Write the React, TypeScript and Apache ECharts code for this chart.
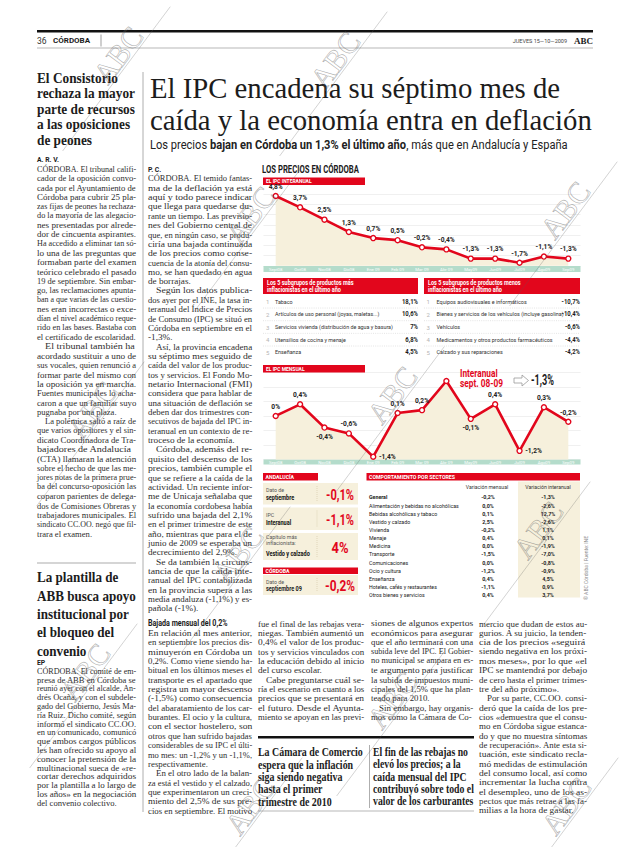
import React, { useEffect, useRef } from 'react';
import * as echarts from 'echarts';

// ---------- DATA ----------
const months = ['Sept08', 'Oct08', 'Nov08', 'Dic08', 'Ene 09', 'Feb 09', 'Mar 09', 'Abr 09', 'May09', 'Jun09', 'Jul09', 'Ago09', 'Sep09'];
const ipcInteranual = [4.8, 3.7, 2.5, 1.3, 0.7, 0.5, -0.2, -0.4, -1.3, -1.3, -1.7, -1.1, -1.3];
const ipcMensual = [0, 0.4, -0.4, -0.6, -1.4, 0.1, 0.2, 1.2, -0.1, 0.4, -1.2, 0.3, -0.2];

const masInflacionistas = ['Tabaco', 'Artículos de uso personal (joyas, maletas...)', 'Servicios vivienda (distribución de agua y basura)', 'Utensilios de cocina y menaje', 'Enseñanza'];
const masInflacionistasValores = ['18,1%', '10,6%', '7%', '6,8%', '4,5%'];
const menosInflacionistas = ['Equipos audiovisuales e informáticos', 'Bienes y servicios de los vehículos (incluye gasolina)', 'Vehículos', 'Medicamentos y otros productos farmacéuticos', 'Calzado y sus reparaciones'];
const menosInflacionistasValores = ['-10,7%', '-10,4%', '-6,6%', '-4,4%', '-4,2%'];

const andaluciaEtiquetas = [['Dato de', 'septiembre'], ['IPC', 'Interanual'], ['Capítulo más', 'inflacionista:', 'Vestido y calzado']];
const andaluciaValores = ['-0,1%', '-1,1%', '4%'];
const cordobaEtiqueta = ['Dato de', 'septiembre 09'];
const cordobaValor = '-0,2%';
const interanualSept = '-1,3%';

const sectores = ['General', 'Alimentación y bebidas no alcohólicas', 'Bebidas alcohólicas y tabaco', 'Vestido y calzado', 'Vivienda', 'Menaje', 'Medicina', 'Transporte', 'Comunicaciones', 'Ocio y cultura', 'Enseñanza', 'Hoteles, cafés y restaurantes', 'Otros bienes y servicios'];
const sectoresMensual = ['-0,2%', '0,0%', '0,1%', '2,5%', '-0,2%', '0,4%', '0,0%', '-1,5%', '0,0%', '-1,2%', '0,4%', '-1,1%', '0,4%'];
const sectoresInteranual = ['-1,3%', '-2,6%', '12,7%', '-2,6%', '1,1%', '0,1%', '-1,9%', '-7,0%', '-0,8%', '-0,9%', '4,5%', '0,9%', '3,7%'];

// ---------- TEXTS ----------
const headline = ['El IPC encadena su séptimo mes de', 'caída y la economía entra en deflación'];
const leftHead1 = ['El Consistorio', 'rechaza la mayor', 'parte de recursos', 'a las oposiciones', 'de peones'];
const leftHead2 = ['La plantilla de', 'ABB busca apoyo', 'institucional por', 'el bloqueo del', 'convenio'];
const quote1 = ['La Cámara de Comercio', 'espera que la inflación', 'siga siendo negativa', 'hasta el primer', 'trimestre de 2010'];
const quote2 = ['El fin de las rebajas no', 'elevó los precios; a la', 'caída mensual del IPC', 'contribuyó sobre todo el', 'valor de los carburantes'];

const col1a = [
  'CÓRDOBA. El tribunal califi-', 'cador de la oposición convo-', 'cada por el Ayuntamiento de', 'Córdoba para cubrir 25 pla-',
  'zas fijas de peones ha rechaza-', 'do la mayoría de las alegacio-', 'nes presentadas por alrede-', 'dor de cincuenta aspirantes.',
  'Ha accedido a eliminar tan só-', 'lo una de las preguntas que', 'formaban parte del examen', 'teórico celebrado el pasado',
  '19 de septiembre. Sin embar-', 'go, las reclamaciones apunta-', 'ban a que varias de las cuestio-', 'nes eran incorrectas o exce-',
  'dían el nivel académico reque-', 'rido en las bases. Bastaba con', 'el certificado de escolaridad.',
  '   El tribunal también ha', 'acordado sustituir a uno de', 'sus vocales, quien renunció a', 'formar parte del mismo con',
  'la oposición ya en marcha.', 'Fuentes municipales lo acha-', 'caron a que un familiar suyo', 'pugnaba por una plaza.',
  '   La polémica saltó a raíz de', 'que varios opositores y el sin-', 'dicato Coordinadora de Tra-', 'bajadores de Andalucía',
  '(CTA) llamaran la atención', 'sobre el hecho de que las me-', 'jores notas de la primera prue-', 'ba del concurso-oposición las',
  'coparon parientes de delega-', 'dos de Comisiones Obreras y', 'trabajadores municipales. El', 'sindicato CC.OO. negó que fil-',
  'trara el examen.',
];
const col1b = [
  'CÓRDOBA. El comité de em-', 'presa de ABB en Córdoba se', 'reunió ayer con el alcalde, An-', 'drés Ocaña, y con el subdele-',
  'gado del Gobierno, Jesús Ma-', 'ría Ruiz. Dicho comité, según', 'informó el sindicato CC.OO.', 'en un comunicado, comunicó',
  'que ambos cargos públicos', 'les han ofrecido su apoyo al', 'conocer la pretensión de la', 'multinacional sueca de «re-',
  'cortar derechos adquiridos', 'por la plantilla a lo largo de', 'los años» en la negociación', 'del convenio colectivo.',
];
const col2a = [
  'CÓRDOBA. El temido fantas-', 'ma de la deflación ya está', 'aquí y todo parece indicar', 'que llega para quedarse du-',
  'rante un tiempo. Las previsio-', 'nes del Gobierno central de', 'que, en ningún caso, se produ-', 'ciría una bajada continuada',
  'de los precios como conse-', 'cuencia de la atonía del consu-', 'mo, se han quedado en agua', 'de borrajas.',
  '   Según los datos publica-', 'dos ayer por el INE, la tasa in-', 'teranual del Índice de Precios', 'de Consumo (IPC) se situó en',
  'Córdoba en septiembre en el', '-1,3%.',
  '   Así, la provincia encadena', 'su séptimo mes seguido de', 'caída del valor de los produc-', 'tos y servicios. El Fondo Mo-',
  'netario Internacional (FMI)', 'considera que para hablar de', 'una situación de deflación se', 'deben dar dos trimestres con-',
  'secutivos de bajada del IPC in-', 'teranual en un contexto de re-', 'troceso de la economía.',
  '   Córdoba, además del re-', 'quisito del descenso de los', 'precios, también cumple el', 'que se refiere a la caída de la',
  'actividad. Un reciente infor-', 'me de Unicaja señalaba que', 'la economía cordobesa había', 'sufrido una bajada del 2,1%',
  'en el primer trimestre de este', 'año, mientras que para el de', 'junio de 2009 se esperaba un', 'decrecimiento del 2,9%.',
  '   Se da también la circuns-', 'tancia de que la caída inte-', 'ranual del IPC contabilizada', 'en la provincia supera a las',
  'media andaluza (-1,1%) y es-', 'pañola (-1%).',
];
const col2b = [
  'En relación al mes anterior,', 'en septiembre los precios dis-', 'minuyeron en Córdoba un', '0,2%. Como viene siendo ha-',
  'bitual en los últimos meses el', 'transporte es el apartado que', 'registra un mayor descenso', '(-1,5%) como consecuencia',
  'del abaratamiento de los car-', 'burantes. El ocio y la cultura,', 'con el sector hostelero, son', 'otros que han sufrido bajadas',
  'considerables de su IPC el últi-', 'mo mes: un -1,2% y un -1,1%,', 'respectivamente.',
  '   En el otro lado de la balan-', 'za está el vestido y el calzado,', 'que experimentaron un creci-', 'miento del 2,5% de sus pre-',
  'cios en septiembre. El motivo',
];
const col3 = [
  'fue el final de las rebajas vera-', 'niegas. También aumentó un', '0,4% el valor de los produc-', 'tos y servicios vinculados con',
  'la educación debido al inicio', 'del curso escolar.',
  '   Cabe preguntarse cuál se-', 'ría el escenario en cuanto a los', 'precios que se presentará en', 'el futuro. Desde el Ayunta-',
  'miento se apoyan en las previ-',
];
const col4 = [
  'siones de algunos expertos', 'económicos para asegurar', 'que el año terminará con una', 'subida leve del IPC. El Gobier-',
  'no municipal se ampara en es-', 'te argumento para justificar', 'la subida de impuestos muni-', 'cipales del 1,5% que ha plan-',
  'teado para 2010.',
  '   Sin embargo, hay organis-', 'mos como la Cámara de Co-',
];
const col5 = [
  'mercio que dudan de estos au-', 'gurios. A su juicio, la tenden-', 'cia de los precios «seguirá', 'siendo negativa en los próxi-',
  'mos meses», por lo que «el', 'IPC se mantendrá por debajo', 'de cero hasta el primer trimes-', 'tre del año próximo».',
  '   Por su parte, CC.OO. consi-', 'deró que la caída de los pre-', 'cios «demuestra que el consu-', 'mo en Córdoba sigue estanca-',
  'do y que no muestra síntomas', 'de recuperación». Ante esta si-', 'tuación, este sindicato recla-', 'mó medidas de estimulación',
  'del consumo local, así como', 'incrementar la lucha contra', 'el desempleo, uno de los as-', 'pectos que más retrae a las fa-',
  'milias a la hora de gastar.',
];

// ---------- STYLE ----------
const RED = '#e2061c';
const BEIGE = '#f6f0dc';
const MINT = '#b4dccb';
const INK = '#1c1c1c';
const BODY_INK = '#2e2e2e';
const SERIF = '"Liberation Serif", "DejaVu Serif", serif';
const SANS = 'Roboto, "Noto Sans", sans-serif';

let ctx: any = null;
function mw(text: string, size: number, family: string, weight = 'normal') {
  if (!ctx) ctx = document.createElement('canvas').getContext('2d');
  ctx.font = `${weight} ${size}px ${family}`;
  return ctx.measureText(text).width;
}
function fitScale(texts: string[], size: number, family: string, weight: string, target: number) {
  const m = Math.max(...texts.map((t) => mw(t, size, family, weight)));
  return target / m;
}
function fmt(v: number) {
  return v === 0 ? '0%' : v.toFixed(1).replace('.', ',') + '%';
}

function T(x: number, y: number, text: string, o: any = {}) {
  return {
    type: 'text', x, y, z: o.z ?? 20, silent: true,
    rotation: o.rotation || 0, scaleX: o.sx ?? 1, scaleY: 1,
    style: {
      text, fill: o.fill ?? INK, fontSize: o.size ?? 8, fontFamily: o.family ?? SERIF,
      fontWeight: o.weight ?? 'normal', textAlign: o.align ?? 'left', textVerticalAlign: o.valign ?? 'middle',
    },
  };
}
function R(x: number, y: number, w: number, h: number, fill: string, z = 3) {
  return { type: 'rect', shape: { x, y, width: w, height: h }, style: { fill }, z, silent: true };
}
function L(x1: number, y1: number, x2: number, y2: number, stroke: string, w = 1, dash?: number[], z = 4) {
  return { type: 'line', shape: { x1, y1, x2, y2 }, style: { stroke, lineWidth: w, lineDash: dash }, z, silent: true };
}

function bodyColumn(x: number, y0: number, width: number, lines: string[], lh: number, size = 8.4) {
  const els: any[] = [];
  const info = lines.map((raw, i) => {
    const indent = raw.startsWith('   ') ? 8 : 0;
    const t = raw.trim();
    const w = mw(t, size, SERIF);
    const last = i === lines.length - 1 || lines[i + 1].startsWith('   ');
    return { t, indent, w, last, s: (width - indent) / w };
  });
  const full = info.filter((d) => !d.last).map((d) => d.s).sort((a, b) => a - b);
  const base = full.length ? full[Math.floor(full.length / 2)] : 0.92;
  info.forEach((d, i) => {
    const s = d.last ? Math.min(base, d.s) : Math.max(0.75, Math.min(1.2, d.s));
    els.push(T(x + d.indent, y0 + i * lh, d.t, { size, sx: s, family: SERIF, fill: BODY_INK }));
  });
  return els;
}

function watermark(cx: number, cy: number) {
  const a = 0.93;
  const dx = Math.cos(a), dy = -Math.sin(a);
  const ox = Math.sin(a) * 13, oy = Math.cos(a) * 13;
  return [
    {
      type: 'text', x: cx, y: cy, rotation: a, z: 60, silent: true,
      style: { text: 'ABC', fontSize: 30, fontFamily: SERIF, fill: 'rgba(0,0,0,0)', stroke: 'rgba(90,90,90,0.5)', lineWidth: 0.6, textAlign: 'center', textVerticalAlign: 'middle' },
    },
    L(cx + ox - 110 * dx, cy + oy - 110 * dy, cx + ox + 70 * dx, cy + oy + 70 * dy, 'rgba(90,90,90,0.45)', 0.6, undefined, 60),
  ];
}

function buildOption() {
  const g: any[] = [];

  // page header
  g.push(R(37, 30, 556, 2.6, '#111'));
  g.push(T(37, 40.5, '36', { size: 8.5, family: SANS, fill: '#333' }));
  g.push(T(53, 40.5, 'CÓRDOBA', { size: 8, weight: 'bold', family: SANS }));
  g.push(L(101, 34.5, 101, 46.5, '#777', 0.7));
  g.push(T(567, 40.5, 'JUEVES 15—10—2009', { size: 5.5, family: SANS, align: 'right', fill: '#444' }));
  g.push(T(593, 40.5, 'ABC', { size: 9, weight: 'bold', family: SERIF, align: 'right' }));
  g.push(L(37, 48, 593, 48, '#888', 0.6));

  // main headline
  const hs = 30;
  const hsx = 442 / mw(headline[1], hs, SERIF);
  g.push(T(150, 88, headline[0], { size: hs, sx: hsx }));
  g.push(T(150, 120, headline[1], { size: hs, sx: hsx }));
  const sub1 = 'Los precios ', sub2 = 'bajan en Córdoba un 1,3% el último año', sub3 = ', más que en Andalucía y España';
  const subW = mw(sub1 + sub3, 12, SANS) + mw(sub2, 12, SANS, 'bold');
  g.push({
    type: 'text', x: 150, y: 145, z: 20, silent: true, scaleX: 418 / subW,
    style: {
      text: `{r|${sub1}}{b|${sub2}}{r|${sub3}}`, textAlign: 'left', textVerticalAlign: 'middle',
      rich: { r: { fontSize: 12, fontFamily: SANS, fill: '#222' }, b: { fontSize: 12, fontFamily: SANS, fontWeight: 'bold', fill: '#222' } },
    },
  });

  // rules
  g.push(L(143, 72, 143, 812, '#999', 0.8));
  g.push(L(37, 563, 136, 563, '#888', 0.7));

  // left column
  const lh1s = fitScale(leftHead1, 14.5, SERIF, 'bold', 98);
  leftHead1.forEach((t, i) => g.push(T(37, 78 + i * 15.6, t, { size: 14.5, weight: 'bold', sx: lh1s })));
  g.push(T(37, 159.5, 'A. R. V.', { size: 6.8, weight: 'bold', family: SANS }));
  g.push(...bodyColumn(37, 169, 99, col1a, 9.35));
  const lh2s = fitScale(leftHead2, 15.5, SERIF, 'bold', 99);
  leftHead2.forEach((t, i) => g.push(T(37, 577 + i * 18.3, t, { size: 15.5, weight: 'bold', sx: lh2s })));
  g.push(T(37, 662.5, 'EP', { size: 6.8, weight: 'bold', family: SANS }));
  g.push(...bodyColumn(37, 671, 99, col1b, 8.8));

  // second column
  g.push(T(148, 170, 'P. C.', { size: 6.8, weight: 'bold', family: SANS }));
  g.push(...bodyColumn(148, 178.5, 104, col2a, 9.35));
  const yHead = 178.5 + 46 * 9.35 + 15;
  g.push(T(148, yHead, 'Bajada mensual del 0,2%', { size: 8.3, weight: 'bold', family: SANS, sx: 0.86 }));
  g.push(...bodyColumn(148, yHead + 9.5, 104, col2b, 9.35));

  // bottom columns
  g.push(...bodyColumn(258, yHead, 106, col3, 9.35));
  g.push(...bodyColumn(371, yHead, 102, col4, 9.35));
  g.push(...bodyColumn(479, yHead, 108, col5, 9.35));

  // pull quotes
  g.push(R(258, 736, 216, 2.6, '#111'));
  g.push(L(369.5, 745, 369.5, 808, '#999', 0.8));
  g.push(L(258, 811, 474, 811, '#999', 0.7));
  const q1s = fitScale(quote1, 11.5, SERIF, 'bold', 105);
  quote1.forEach((t, i) => g.push(T(258, 752 + i * 12.4, t, { size: 11.5, weight: 'bold', sx: q1s })));
  const q2s = fitScale(quote2, 11.5, SERIF, 'bold', 101);
  quote2.forEach((t, i) => g.push(T(373, 752 + i * 12.4, t, { size: 11.5, weight: 'bold', sx: q2s })));

  // ---- infographic ----
  const ttl = 'LOS PRECIOS EN CÓRDOBA';
  g.push(T(262, 170, ttl, { size: 10, weight: 'bold', family: SANS, sx: 97 / mw(ttl, 10, SANS, 'bold') }));
  g.push(R(263, 177.5, 102, 7.5, RED));
  g.push(T(266, 181.3, 'EL IPC INTERANUAL', { size: 5.5, weight: 'bold', family: SANS, fill: '#fff', sx: 0.9 }));
  g.push(R(263.5, 266, 317, 6, MINT, 1));

  // top / bottom tables
  g.push(R(263, 278, 155, 16, RED));
  g.push(R(424, 278, 156, 16, RED));
  g.push(T(267, 282.3, 'Los 5 subgrupos de productos más', { size: 6.4, weight: 'bold', family: SANS, fill: '#fff', sx: 0.86 }));
  g.push(T(267, 289.6, 'inflacionistas en el último año', { size: 6.4, weight: 'bold', family: SANS, fill: '#fff', sx: 0.86 }));
  g.push(T(428, 282.3, 'Los 5 subgrupos de productos menos', { size: 6.4, weight: 'bold', family: SANS, fill: '#fff', sx: 0.86 }));
  g.push(T(428, 289.6, 'inflacionistas en el último año', { size: 6.4, weight: 'bold', family: SANS, fill: '#fff', sx: 0.86 }));
  const tls = fitScale(masInflacionistas, 6.2, SANS, 'normal', 118);
  const trs = fitScale(menosInflacionistas, 6.2, SANS, 'normal', 127);
  for (let i = 0; i < 5; i++) {
    const y = 301.7 + i * 12.65;
    g.push(T(267.7, y, String(i + 1), { size: 6, family: SANS, fill: '#b5b5b5', align: 'center' }));
    g.push(T(275, y, masInflacionistas[i], { size: 6.2, family: SANS, fill: '#333', sx: tls }));
    g.push(T(418, y, masInflacionistasValores[i], { size: 6.6, weight: 'bold', family: SANS, align: 'right', sx: 0.9 }));
    g.push(T(428.3, y, String(i + 1), { size: 6, family: SANS, fill: '#b5b5b5', align: 'center' }));
    g.push(T(436.5, y, menosInflacionistas[i], { size: 6.2, family: SANS, fill: '#333', sx: trs }));
    g.push(T(580, y, menosInflacionistasValores[i], { size: 6.6, weight: 'bold', family: SANS, align: 'right', sx: 0.9 }));
    if (i > 0) {
      g.push(L(263, y - 6.3, 418, y - 6.3, '#c8c8c8', 0.5, [1, 1.2]));
      g.push(L(424, y - 6.3, 580, y - 6.3, '#c8c8c8', 0.5, [1, 1.2]));
    }
  }

  // monthly chart header
  g.push(R(263, 365, 102, 7.5, RED));
  g.push(T(266, 368.8, 'EL IPC MENSUAL', { size: 5.5, weight: 'bold', family: SANS, fill: '#fff', sx: 0.9 }));
  const iaS = 43 / mw('sept. 08-09', 10.5, SANS, 'bold');
  g.push(T(460, 373, 'Interanual', { size: 10.5, weight: 'bold', family: SANS, fill: RED, sx: iaS }));
  g.push(T(460, 383.5, 'sept. 08-09', { size: 10.5, weight: 'bold', family: SANS, fill: RED, sx: iaS }));
  g.push({
    type: 'polygon', z: 20, silent: true,
    shape: { points: [[514, 378], [522, 378], [522, 375], [528.5, 380.5], [522, 386], [522, 383], [514, 383]] },
    style: { fill: '#fff', stroke: '#999', lineWidth: 0.8 },
  });
  g.push(T(531, 380.5, interanualSept, { size: 14, weight: 'bold', family: SANS, sx: 23 / mw(interanualSept, 14, SANS, 'bold') }));
  g.push(R(263.5, 459.6, 317, 5, MINT, 1));

  // Andalucía
  g.push(R(263, 473, 55, 7.5, RED));
  g.push(T(265.5, 476.8, 'ANDALUCÍA', { size: 5.8, weight: 'bold', family: SANS, fill: '#fff', sx: 0.9 }));
  const boxes = [[483, 21.5], [507.5, 22.5], [533, 27]];
  boxes.forEach(([y, h], i) => {
    g.push(R(263, y, 95, h, BEIGE));
    g.push(L(317, y + 3, 317, y + h - 3, '#d3c7a4', 0.6, [1, 1]));
    const labs = andaluciaEtiquetas[i];
    labs.forEach((t, j) => {
      const isBold = j === labs.length - 1;
      const ly = labs.length === 2 ? y + h / 2 - 3.5 + j * 7 : y + 4 + j * 6 + (isBold ? 4 : 0);
      g.push(T(266, ly, t, { size: isBold ? 6.3 : 6, weight: isBold ? 'bold' : 'normal', family: SANS, fill: isBold ? '#111' : '#555', sx: 0.88 }));
    });
    const v = andaluciaValores[i];
    const target = v.length > 2 ? 28 : 17;
    g.push(T(340, y + h / 2 + 1, v, { size: 15, weight: 'bold', family: SANS, fill: RED, align: 'center', sx: target / mw(v, 15, SANS, 'bold') }));
  });
  g.push(R(263, 567.5, 95, 6.5, RED));
  g.push(T(265.5, 570.8, 'CÓRDOBA', { size: 5.8, weight: 'bold', family: SANS, fill: '#fff', sx: 0.9 }));
  g.push(R(263, 575, 95, 20, BEIGE));
  g.push(L(317, 578, 317, 592, '#d3c7a4', 0.6, [1, 1]));
  g.push(T(266, 581.5, cordobaEtiqueta[0], { size: 6, family: SANS, fill: '#555', sx: 0.88 }));
  g.push(T(266, 588.5, cordobaEtiqueta[1], { size: 6.3, weight: 'bold', family: SANS, sx: 0.88 }));
  g.push(T(340, 585.5, cordobaValor, { size: 15, weight: 'bold', family: SANS, fill: RED, align: 'center', sx: 30 / mw(cordobaValor, 15, SANS, 'bold') }));

  // sectores table
  g.push(R(366.5, 473, 213.5, 7.5, RED));
  g.push(T(369, 476.8, 'COMPORTAMIENTO POR SECTORES', { size: 5.8, weight: 'bold', family: SANS, fill: '#fff', sx: 0.9 }));
  g.push(R(518, 481.5, 62, 116, BEIGE, 2));
  g.push(T(487, 487, 'Variación mensual', { size: 6, family: SANS, fill: '#333', align: 'center', sx: 0.86 }));
  g.push(T(548, 487, 'Variación interanual', { size: 6, family: SANS, fill: '#333', align: 'center', sx: 0.86 }));
  const ss = fitScale(sectores, 6.1, SANS, 'normal', 90);
  sectores.forEach((s, i) => {
    const y = 497.3 + i * 8.14;
    g.push(T(369, y, s, { size: 6.1, family: SANS, fill: '#222', weight: i === 0 ? 'bold' : 'normal', sx: ss }));
    g.push(T(488, y, sectoresMensual[i], { size: 6, weight: 'bold', family: SANS, align: 'center', sx: 0.9 }));
    g.push(T(548, y, sectoresInteranual[i], { size: 6, weight: 'bold', family: SANS, align: 'center', sx: 0.9 }));
  });
  g.push(T(586, 568, '© ABC Córdoba | Fuente: INE', { size: 5, family: SANS, fill: '#888', align: 'center', rotation: Math.PI / 2 }));

  // watermarks
  const wms = [[118, 55], [335, 60], [250, 215], [565, 210], [92, 410], [392, 395], [238, 555], [538, 530], [85, 672], [392, 700], [250, 806], [566, 806]];
  wms.forEach(([x, y]) => g.push(...watermark(x, y)));

  const mensualLabelPos = ['top', 'top', 'bottom', 'top', 'right', 'top', 'top', 'none', 'bottom', 'top', 'right', 'top', 'top'];

  const labelBase = {
    show: true, position: 'top', distance: 2.5, fontSize: 6.6, fontWeight: 'bold', color: '#222', fontFamily: SANS,
    formatter: (p: any) => fmt(p.value),
  };
  const xAx = (gi: number, margin: number) => ({
    type: 'category', gridIndex: gi, data: months, boundaryGap: true, z: 10,
    axisLine: { show: false }, axisTick: { show: false },
    axisLabel: { fontSize: 4.3, color: '#fff', margin, fontFamily: SANS, interval: 0 },
  });
  const yAx = (gi: number, min: number, max: number, interval: number) => ({
    type: 'value', gridIndex: gi, min, max, interval,
    axisLabel: { show: false }, axisLine: { show: false }, axisTick: { show: false },
    splitLine: { lineStyle: { color: '#e6e6e6', width: 0.6 } },
  });
  const seriesBase = {
    type: 'line', symbol: 'circle', symbolSize: 5,
    lineStyle: { color: RED, width: 2.6 },
    itemStyle: { color: '#fff', borderColor: RED, borderWidth: 1.4 },
    areaStyle: { color: BEIGE, opacity: 1, origin: 'start' },
    z: 3,
  };

  return {
    animation: false,
    backgroundColor: '#fff',
    grid: [
      { left: 263.5, top: 194, width: 317, height: 71.8 },
      { left: 263.5, top: 372.3, width: 317, height: 87.3 },
    ],
    xAxis: [xAx(0, 1.3), xAx(1, 0.6)],
    yAxis: [yAx(0, -2, 5, 1), yAx(1, -1.5, 1.5, 0.5)],
    series: [
      { ...seriesBase, xAxisIndex: 0, yAxisIndex: 0, data: ipcInteranual, label: labelBase },
      {
        ...seriesBase, xAxisIndex: 1, yAxisIndex: 1, label: labelBase,
        data: ipcMensual.map((v, i) => ({
          value: v,
          label: mensualLabelPos[i] === 'none' ? { show: false } : { position: mensualLabelPos[i] },
        })),
      },
    ],
    graphic: { elements: g },
  };
}

export default function App() {
  const ref = useRef<HTMLDivElement>(null);
  useEffect(() => {
    const chart = echarts.init(ref.current as HTMLDivElement, null, { renderer: 'svg' });
    chart.setOption(buildOption() as any);
    return () => chart.dispose();
  }, []);
  return <div ref={ref} style={{ position: 'absolute', left: 0, top: 0, width: 620, height: 847, background: '#fff' }} />;
}
